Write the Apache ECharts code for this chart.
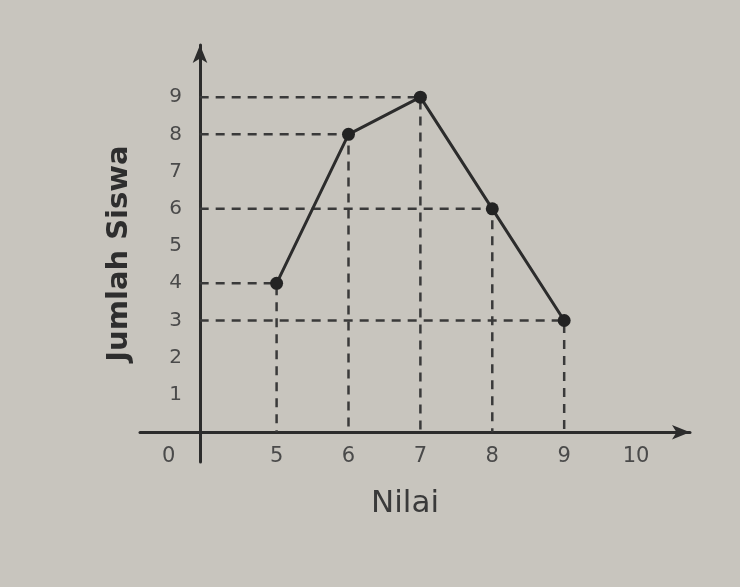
<!DOCTYPE html>
<html>
<head>
<meta charset="utf-8">
<script src="https://cdn.jsdelivr.net/npm/echarts@6/dist/echarts.min.js"></script>
<style>
html,body{margin:0;padding:0;background:#c8c5be;}
#chart{width:740px;height:587px;}
</style>
</head>
<body>
<div id="chart"></div>
<script>
// Data
const nilai = [5, 6, 7, 8, 9];
const jumlahSiswa = [4, 8, 9, 6, 3];
const xTickValues = [5, 6, 7, 8, 9, 10];
const yTickValues = [1, 2, 3, 4, 5, 6, 7, 8, 9];
const originLabel = '0';
const xAxisName = 'Nilai';
const yAxisName = 'Jumlah Siswa';

// Layout helpers (axis geometry, not data)
const xMin = 3.1, xMax = 10.75;
const yMin = -0.8, yMax = 10.4;
const yAxisAt = 3.93;      // x value where the vertical axis crosses
const originLabelAt = 3.5; // where the "0" origin label sits

const ink = '#2c2c2c';
const dashInk = '#3a3a3a';
const labelInk = '#4a4a4a';

const points = nilai.map((x, i) => [x, jumlahSiswa[i]]);

const guideSeries = points.map(([x, y]) => ({
  type: 'line',
  data: [[yAxisAt, y], [x, y], [x, 0]],
  symbol: 'none',
  silent: true,
  z: 1,
  lineStyle: { color: dashInk, width: 2.5, type: [9, 7] },
  animation: false
}));

const chart = echarts.init(document.getElementById('chart'));
chart.setOption({
  backgroundColor: '#c8c5be',
  animation: false,
  grid: { left: 140, right: 50, top: 45, bottom: 125, containLabel: false, outerBoundsMode: 'none' },
  xAxis: {
    type: 'value',
    min: xMin, max: xMax,
    name: xAxisName,
    nameLocation: 'middle',
    nameGap: 26,
    nameTextStyle: { fontFamily: 'DejaVu Sans', fontSize: 31, color: '#3a3a3a', padding: [0, 20, 0, 0] },
    axisLine: {
      onZero: true,
      symbol: ['none', 'arrow'],
      symbolSize: [11, 18],
      lineStyle: { color: ink, width: 3 }
    },
    axisTick: { show: false },
    splitLine: { show: false },
    axisLabel: {
      customValues: [originLabelAt].concat(xTickValues),
      formatter: v => (Math.abs(v - originLabelAt) < 1e-6 ? originLabel : String(v)),
      fontFamily: 'DejaVu Sans',
      fontSize: 21,
      color: labelInk,
      margin: -16
    }
  },
  yAxis: {
    type: 'value',
    min: yMin, max: yMax,
    offset: -60,
    name: yAxisName,
    nameLocation: 'middle',
    nameGap: 66,
    nameRotate: 90,
    nameTextStyle: { fontFamily: 'DejaVu Sans', fontSize: 29, fontWeight: 'bold', color: '#2e2e2e' },
    axisLine: {
      show: true,
      onZero: false,
      symbol: ['none', 'arrow'],
      symbolSize: [11, 18],
      lineStyle: { color: ink, width: 3 }
    },
    axisTick: { show: false },
    splitLine: { show: false },
    axisLabel: {
      customValues: yTickValues,
      fontFamily: 'DejaVu Sans',
      fontSize: 20,
      color: labelInk,
      margin: 18
    }
  },
  series: guideSeries.concat([{
    type: 'line',
    data: points,
    z: 3,
    symbol: 'circle',
    symbolSize: 13,
    itemStyle: { color: '#232323' },
    lineStyle: { color: ink, width: 3 },
    animation: false
  }])
});
</script>
</body>
</html>
